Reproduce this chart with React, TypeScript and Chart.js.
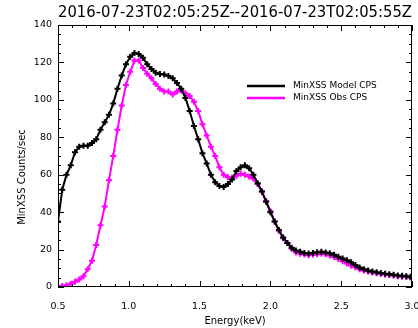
import React, { useEffect, useRef } from "react";
import { Chart, registerables } from "chart.js";

Chart.register(...registerables);

const TITLE = "2016-07-23T02:05:25Z--2016-07-23T02:05:55Z";
const X_TITLE = "Energy(keV)";
const Y_TITLE = "MinXSS Counts/sec";
const SERIES_LABELS = ["MinXSS Model CPS", "MinXSS Obs CPS"];
const SERIES_COLORS = ["#000000", "#ff00ff"];

const X_MIN = 0.5;
const X_MAX = 3.0;
const X_MAJOR = 0.5;
const X_MINOR = 0.1;
const Y_MIN = 0;
const Y_MAX = 140;
const Y_MAJOR = 20;
const Y_MINOR = 5;

const energy = [
  0.50, 0.53, 0.56, 0.59, 0.62, 0.65, 0.68, 0.71, 0.74, 0.77,
  0.80, 0.83, 0.86, 0.89, 0.92, 0.95, 0.98, 1.01, 1.04, 1.07,
  1.10, 1.13, 1.16, 1.19, 1.22, 1.25, 1.28, 1.31, 1.34, 1.37,
  1.40, 1.43, 1.46, 1.49, 1.52, 1.55, 1.58, 1.61, 1.64, 1.67,
  1.70, 1.73, 1.76, 1.79, 1.82, 1.85, 1.88, 1.91, 1.94, 1.97,
  2.00, 2.03, 2.06, 2.09, 2.12, 2.15, 2.18, 2.21, 2.24, 2.27,
  2.30, 2.33, 2.36, 2.39, 2.42, 2.45, 2.48, 2.51, 2.54, 2.57,
  2.60, 2.63, 2.66, 2.69, 2.72, 2.75, 2.78, 2.81, 2.84, 2.87,
  2.90, 2.93, 2.96, 2.99,
];

const modelCps = [
  35, 52, 60, 65, 72, 75, 75.5, 75.5, 77, 79,
  84, 88, 92, 98, 106, 113, 119, 123, 125, 124.5,
  122.5, 119, 116.5, 114.5, 113.8, 113.5, 112.8, 111.5, 109, 106,
  101, 94, 86, 79, 71.5, 66, 60, 56, 54, 53.5,
  55, 57.5, 62, 64, 65, 63.5, 60, 55.5, 51, 45.5,
  40, 35, 30.5, 26.5, 23.5, 21, 19.5, 18.8, 18.2, 17.9,
  18.2, 18.6, 18.8, 18.5, 18, 17.2, 16.2, 15.2, 14.3, 13.2,
  11.8, 10.4, 9.5, 8.8, 8.3, 7.9, 7.5, 7.1, 6.8, 6.5,
  6.2, 6.0, 5.7, 5.5,
];

const obsCps = [
  0.5, 0.5, 1, 1.8, 2.8, 4, 5.8, 9.5, 14, 22.5,
  33, 43, 57, 70, 84, 97, 108, 115, 121, 121,
  117, 114, 111.5, 108.5, 106, 104.5, 104.5, 102.8, 104.5, 105,
  103.5, 102, 99, 94, 87, 81, 75, 70, 64, 60,
  58.7, 58.5, 59.5, 60.5, 60, 59, 57.8, 55, 51, 46,
  40.5, 35, 30, 26, 23.5, 20.5, 18.5, 17.8, 17.3, 17,
  17.2, 17.5, 17.8, 17.5, 16.8, 16, 15, 13.8, 12.6, 11.5,
  10.5, 9.5, 8.8, 8.3, 7.8, 7.4, 7, 6.7, 6.4, 6.1,
  5.8, 5.5, 5.3, 5.1,
];

const FONT = "'DejaVu Sans', sans-serif";

const idlFrame = {
  id: "idlFrame",
  afterDatasetsDraw(chart: any) {
    const { ctx, chartArea: a, scales } = chart;
    const x = scales.x;
    const y = scales.y;
    ctx.save();
    ctx.strokeStyle = "#000";
    ctx.lineWidth = 1;
    ctx.strokeRect(a.left + 0.5, a.top + 0.5, a.right - a.left - 1, a.bottom - a.top - 1);
    ctx.beginPath();
    const nx = Math.round((X_MAX - X_MIN) / X_MINOR);
    for (let i = 0; i <= nx; i++) {
      const v = X_MIN + i * X_MINOR;
      const major = Math.abs(v / X_MAJOR - Math.round(v / X_MAJOR)) < 1e-6;
      const len = major ? 6 : 3;
      const px = Math.round(x.getPixelForValue(v)) + 0.5;
      ctx.moveTo(px, a.bottom);
      ctx.lineTo(px, a.bottom - len);
      ctx.moveTo(px, a.top);
      ctx.lineTo(px, a.top + len);
    }
    const ny = Math.round((Y_MAX - Y_MIN) / Y_MINOR);
    for (let i = 0; i <= ny; i++) {
      const v = Y_MIN + i * Y_MINOR;
      const major = v % Y_MAJOR === 0;
      const len = major ? 6 : 3;
      const py = Math.round(y.getPixelForValue(v)) + 0.5;
      ctx.moveTo(a.left, py);
      ctx.lineTo(a.left + len, py);
      ctx.moveTo(a.right, py);
      ctx.lineTo(a.right - len, py);
    }
    ctx.stroke();

    // legend
    ctx.font = `9px ${FONT}`;
    ctx.textBaseline = "middle";
    ctx.textAlign = "left";
    chart.data.datasets.forEach((ds: any, i: number) => {
      const ly = 86 + i * 12;
      ctx.strokeStyle = ds.borderColor;
      ctx.lineWidth = 2.5;
      ctx.beginPath();
      ctx.moveTo(247, ly);
      ctx.lineTo(285, ly);
      ctx.stroke();
      ctx.fillStyle = "#000";
      ctx.fillText(ds.label, 293, ly);
    });

    // y title
    ctx.save();
    ctx.translate(22, 177);
    ctx.rotate(-Math.PI / 2);
    ctx.textAlign = "center";
    ctx.textBaseline = "middle";
    ctx.font = `10px ${FONT}`;
    ctx.fillStyle = "#000";
    ctx.fillText(Y_TITLE, 0, 0);
    ctx.restore();

    ctx.restore();
  },
};

export default function App() {
  const ref = useRef<HTMLCanvasElement | null>(null);

  useEffect(() => {
    if (!ref.current) return;
    const mk = (vals: number[]) => energy.map((e, i) => ({ x: e, y: vals[i] }));
    const chart = new Chart(ref.current, {
      type: "line",
      data: {
        datasets: [
          {
            label: SERIES_LABELS[0],
            data: mk(modelCps),
            borderColor: SERIES_COLORS[0],
            backgroundColor: SERIES_COLORS[0],
            borderWidth: 2,
            pointStyle: "cross",
            pointRadius: 3,
            pointBorderWidth: 2,
            pointBorderColor: SERIES_COLORS[0],
            tension: 0,
            fill: false,
          },
          {
            label: SERIES_LABELS[1],
            data: mk(obsCps),
            borderColor: SERIES_COLORS[1],
            backgroundColor: SERIES_COLORS[1],
            borderWidth: 2,
            pointStyle: "cross",
            pointRadius: 3,
            pointBorderWidth: 2,
            pointBorderColor: SERIES_COLORS[1],
            tension: 0,
            fill: false,
          },
        ],
      },
      options: {
        animation: false,
        responsive: true,
        maintainAspectRatio: false,
        layout: { padding: { left: 0, right: 2, top: 0, bottom: 0 } },
        plugins: {
          legend: { display: false },
          tooltip: { enabled: false },
          title: {
            display: true,
            text: TITLE,
            fullSize: false,
            color: "#000",
            font: { family: FONT, size: 15, weight: "normal" },
            padding: { top: 4, bottom: 3 },
          },
        },
        scales: {
          x: {
            type: "linear",
            min: X_MIN,
            max: X_MAX,
            grid: { display: false, drawTicks: false },
            border: { display: false },
            ticks: {
              stepSize: X_MAJOR,
              color: "#000",
              padding: 14,
              maxRotation: 0,
              autoSkip: false,
              font: { family: FONT, size: 9.5 },
              callback: (v: any) => Number(v).toFixed(1),
            },
            title: {
              display: true,
              text: X_TITLE,
              color: "#000",
              font: { family: FONT, size: 10 },
              padding: { top: 1, bottom: 1 },
            },
            afterFit: (s: any) => {
              s.height = 41;
              s.paddingLeft = 0;
              s.paddingRight = 0;
            },
          },
          y: {
            type: "linear",
            min: Y_MIN,
            max: Y_MAX,
            grid: { display: false, drawTicks: false },
            border: { display: false },
            ticks: {
              stepSize: Y_MAJOR,
              color: "#000",
              padding: 6,
              font: { family: FONT, size: 9.5 },
            },
            afterFit: (s: any) => {
              s.width = 58;
              s.paddingTop = 0;
              s.paddingBottom = 0;
            },
          },
        },
      },
      plugins: [idlFrame],
    });
    return () => chart.destroy();
  }, []);

  return (
    <div style={{ position: "fixed", left: 0, top: 0, width: 418, height: 328, background: "#fff" }}>
      <canvas ref={ref} />
    </div>
  );
}
